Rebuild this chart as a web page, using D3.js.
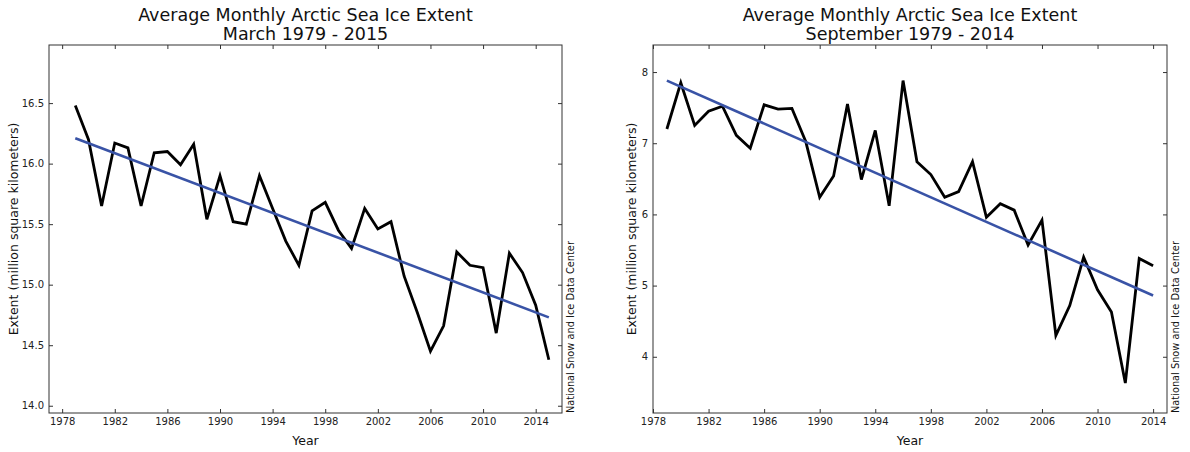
<!DOCTYPE html>
<html>
<head>
<meta charset="utf-8">
<script src="https://cdn.jsdelivr.net/npm/d3@7"></script>
<style>
    body { margin: 0; background: #fff; }
    svg text { font-family: "DejaVu Sans", sans-serif; fill: #111; }
    .tick text { font-size: 10px; fill: #222; }
    .tick line { stroke: #333; }
</style>
</head>
<body>
<div class="charts"></div>
<script>
// March extent, 1979 - 2015
const marchYears = d3.range(1979, 2016);
const marchExtent = [
    16.48, 16.20, 15.65, 16.17, 16.13, 15.65, 16.09, 16.10, 15.99, 16.16,
    15.54, 15.90, 15.52, 15.50, 15.90, 15.63, 15.36, 15.16, 15.61, 15.68,
    15.45, 15.30, 15.63, 15.46, 15.52, 15.07, 14.77, 14.45, 14.66, 15.27,
    15.16, 15.14, 14.60, 15.26, 15.10, 14.83, 14.38
];
const marchTrendYears = [1979, 2015];
const marchTrend = [16.21, 14.73];
const marchYTicks = [14.0, 14.5, 15.0, 15.5, 16.0, 16.5];

// September extent, 1979 - 2014
const septYears = d3.range(1979, 2015);
const septExtent = [
    7.20, 7.85, 7.25, 7.45, 7.52, 7.11, 6.93, 7.54, 7.48, 7.49,
    7.02, 6.24, 6.54, 7.55, 6.49, 7.18, 6.12, 7.88, 6.74, 6.56,
    6.24, 6.32, 6.74, 5.96, 6.15, 6.06, 5.57, 5.92, 4.30, 4.72,
    5.40, 4.94, 4.63, 3.63, 5.38, 5.28
];
const septTrendYears = [1979, 2014];
const septTrend = [7.88, 4.86];
const septYTicks = [4, 5, 6, 7, 8];

const yearTicks = d3.range(1978, 2015, 4);

const width = 1190;
const height = 452;

const svg = d3.select(".charts")
    .append("svg")
    .attr("width", width)
    .attr("height", height);

function drawChart(opts) {
    const x = d3.scaleLinear().domain(opts.xDomain).range([opts.left, opts.right]);
    const y = d3.scaleLinear().domain(opts.yDomain).range([opts.bottom, opts.top]);
    const g = svg.append("g");

    // bottom / left axes with inward ticks
    g.append("g")
        .attr("transform", `translate(0,${opts.bottom})`)
        .call(d3.axisBottom(x).tickValues(yearTicks).tickFormat(d3.format("d"))
            .tickSize(-4).tickPadding(5))
        .call(a => a.select(".domain").remove());

    g.append("g")
        .attr("transform", `translate(${opts.left},0)`)
        .call(d3.axisLeft(y).tickValues(opts.yTicks).tickFormat(opts.yFormat)
            .tickSize(-4).tickPadding(5))
        .call(a => a.select(".domain").remove());

    // mirrored ticks on top / right
    g.append("g")
        .attr("transform", `translate(0,${opts.top})`)
        .call(d3.axisTop(x).tickValues(yearTicks).tickFormat("").tickSize(-4))
        .call(a => a.select(".domain").remove());

    g.append("g")
        .attr("transform", `translate(${opts.right},0)`)
        .call(d3.axisRight(y).tickValues(opts.yTicks).tickFormat("").tickSize(-4))
        .call(a => a.select(".domain").remove());

    // frame
    g.append("rect")
        .attr("x", opts.left)
        .attr("y", opts.top)
        .attr("width", opts.right - opts.left)
        .attr("height", opts.bottom - opts.top)
        .attr("fill", "none")
        .attr("stroke", "#333")
        .attr("stroke-width", 1);

    const line = d3.line()
        .x(d => x(d[0]))
        .y(d => y(d[1]));

    g.append("path")
        .datum(d3.zip(opts.years, opts.values))
        .attr("d", line)
        .attr("fill", "none")
        .attr("stroke", "#000")
        .attr("stroke-width", 2.8)
        .attr("stroke-linejoin", "miter");

    g.append("path")
        .datum(d3.zip(opts.trendYears, opts.trend))
        .attr("d", line)
        .attr("fill", "none")
        .attr("stroke", "#3953a6")
        .attr("stroke-width", 2.6);

    // titles (two lines)
    const cx = (opts.left + opts.right) / 2;
    g.append("text")
        .attr("x", cx)
        .attr("y", 21)
        .attr("text-anchor", "middle")
        .style("font-size", "17.5px")
        .text("Average Monthly Arctic Sea Ice Extent");
    g.append("text")
        .attr("x", cx)
        .attr("y", 39.5)
        .attr("text-anchor", "middle")
        .style("font-size", "17.5px")
        .text(opts.subtitle);

    // axis labels
    g.append("text")
        .attr("x", cx)
        .attr("y", 445)
        .attr("text-anchor", "middle")
        .style("font-size", "12.5px")
        .text("Year");

    g.append("text")
        .attr("transform", `translate(${opts.yLabelX},${(opts.top + opts.bottom) / 2}) rotate(-90)`)
        .attr("text-anchor", "middle")
        .style("font-size", "12.5px")
        .text("Extent (million square kilometers)");

    // credit
    g.append("text")
        .attr("transform", `translate(${opts.right + 12},${opts.bottom}) rotate(-90)`)
        .attr("text-anchor", "start")
        .style("font-size", "9.8px")
        .text("National Snow and Ice Data Center");
}

drawChart({
    left: 49, right: 562, top: 45, bottom: 413,
    xDomain: [1977, 2016], yDomain: [13.94, 16.98],
    yTicks: marchYTicks, yFormat: d3.format(".1f"),
    years: marchYears, values: marchExtent,
    trendYears: marchTrendYears, trend: marchTrend,
    subtitle: "March 1979 - 2015", yLabelX: 18
});

drawChart({
    left: 653, right: 1167, top: 45, bottom: 413,
    xDomain: [1978, 2015], yDomain: [3.21, 8.38],
    yTicks: septYTicks, yFormat: d3.format("d"),
    years: septYears, values: septExtent,
    trendYears: septTrendYears, trend: septTrend,
    subtitle: "September 1979 - 2014", yLabelX: 636
});
</script>
</body>
</html>
